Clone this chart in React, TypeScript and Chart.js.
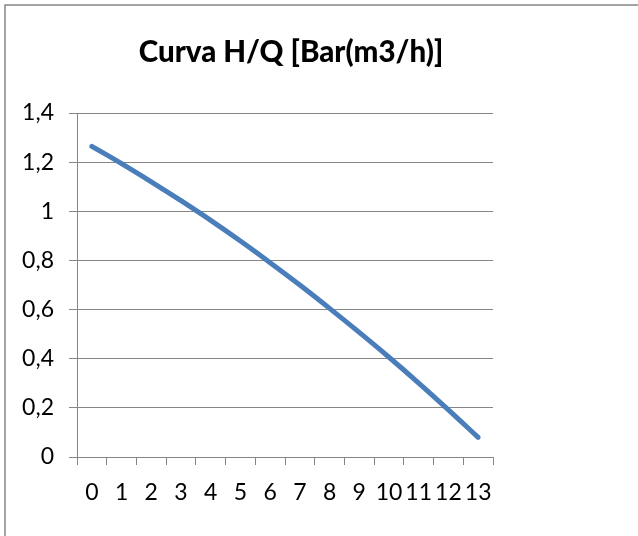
import React, { useEffect, useRef } from "react";
import { Chart, registerables } from "chart.js";

Chart.register(...registerables);

const TITLE = "Curva H/Q [Bar(m3/h)]";
const CATEGORIES = ["0", "1", "2", "3", "4", "5", "6", "7", "8", "9", "10", "11", "12", "13"];
const HEAD_VALUES = [1.264, 1.194, 1.12, 1.043, 0.963, 0.879, 0.791, 0.7, 0.605, 0.507, 0.406, 0.301, 0.192, 0.08];
const Y_MIN = 0;
const Y_MAX = 1.4;
const Y_STEP = 0.2;

const GRAY = "#868686";
const LINE_BLUE = "#4a7ebb";
const FONT = "Lato, 'DejaVu Sans', sans-serif";

const frame = {
  id: "frame",
  beforeDraw(chart: any) {
    const ctx = chart.ctx;
    ctx.save();
    ctx.fillStyle = "#ffffff";
    ctx.fillRect(0, 0, chart.width, chart.height);
    ctx.strokeStyle = GRAY;
    ctx.lineWidth = 1.5;
    ctx.beginPath();
    ctx.moveTo(5, chart.height);
    ctx.lineTo(5, 5);
    ctx.lineTo(chart.width, 5);
    ctx.stroke();
    ctx.restore();
  },
};

export default function App() {
  const ref = useRef<HTMLCanvasElement | null>(null);
  useEffect(() => {
    if (!ref.current) return;
    const chart = new Chart(ref.current, {
      type: "line",
      data: {
        labels: CATEGORIES,
        datasets: [
          {
            data: HEAD_VALUES,
            borderColor: LINE_BLUE,
            borderWidth: 5,
            borderCapStyle: "round",
            borderJoinStyle: "round",
            pointRadius: 0,
            tension: 0.4,
            fill: false,
          },
        ],
      },
      options: {
        responsive: false,
        animation: false,
        layout: { padding: { left: 0, right: 56, top: 0, bottom: 0 } },
        plugins: {
          legend: { display: false },
          tooltip: { enabled: false },
          title: {
            display: true,
            text: TITLE,
            color: "#000000",
            font: { family: FONT, size: 29.5, weight: "900" },
            padding: { top: 35, bottom: 42.6 },
          },
        },
        scales: {
          x: {
            type: "category",
            offset: true,
            grid: {
              offset: true,
              drawOnChartArea: false,
              drawTicks: true,
              tickLength: 8,
              color: GRAY,
            },
            border: { display: true, color: GRAY, width: 1 },
            ticks: {
              color: "#000000",
              font: { family: FONT, size: 23 },
              padding: 14,
              maxRotation: 0,
              autoSkip: false,
            },
            afterFit: (scale: any) => {
              scale.height = 79;
            },
          },
          y: {
            type: "linear",
            position: "left",
            min: Y_MIN,
            max: Y_MAX,
            grid: {
              drawOnChartArea: true,
              drawTicks: true,
              tickLength: 8,
              color: GRAY,
            },
            border: { display: true, color: GRAY, width: 1 },
            ticks: {
              stepSize: Y_STEP,
              color: "#000000",
              font: { family: FONT, size: 23 },
              padding: 15,
              callback: (v: any) => String(Number(Number(v).toFixed(1))).replace(".", ","),
            },
            afterFit: (scale: any) => {
              scale.width = 77;
            },
          },
          yRight: {
            type: "linear",
            position: "right",
            display: true,
            grid: { display: false, drawTicks: false },
            border: { display: false },
            ticks: { display: false },
            afterFit: (scale: any) => {
              scale.width = 89;
            },
          },
        },
      },
      plugins: [frame],
    } as any);
    return () => chart.destroy();
  }, []);
  return (
    <div style={{ position: "fixed", left: 0, top: 0, width: 638, height: 536, overflow: "hidden", background: "#fff" }}>
      <canvas ref={ref} width={638} height={536} style={{ display: "block" }} />
    </div>
  );
}
